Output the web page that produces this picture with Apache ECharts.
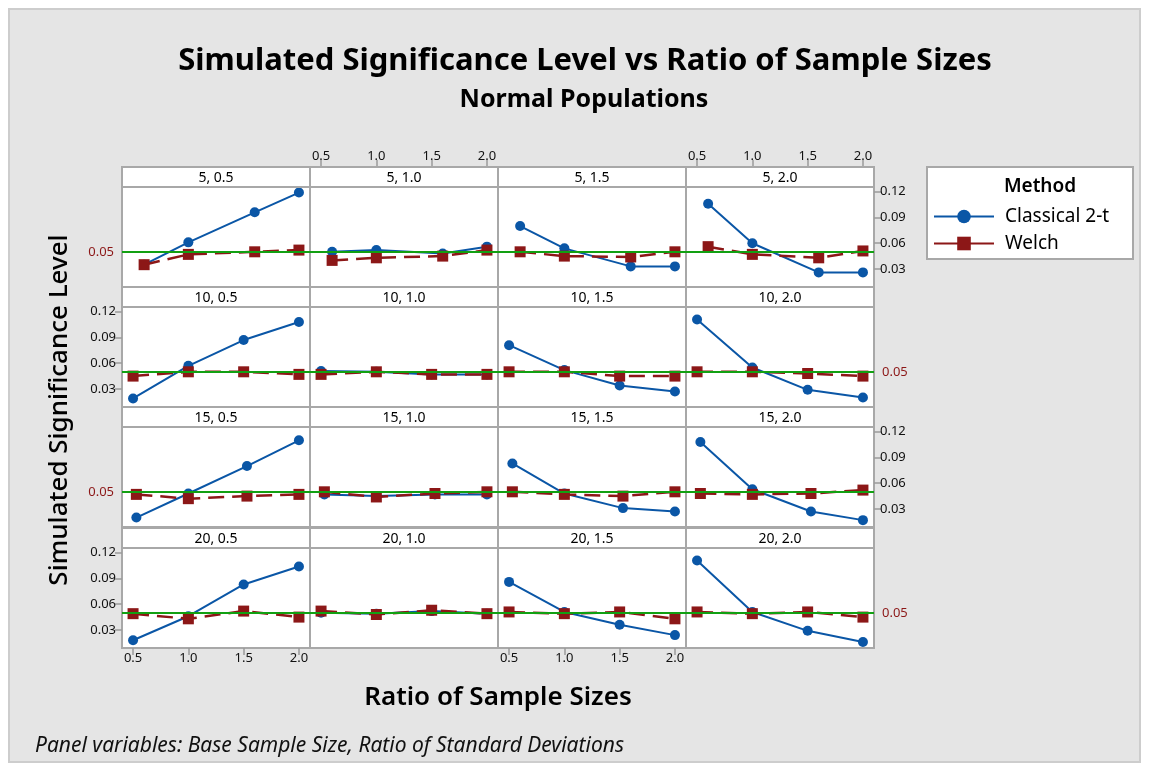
<!DOCTYPE html>
<html>
<head>
<meta charset="utf-8">
<script src="https://cdn.jsdelivr.net/npm/echarts@6/dist/echarts.min.js"></script>
<style>html,body{margin:0;padding:0;background:#fff}#c{width:1149px;height:771px}</style>
</head>
<body>
<div id="c"></div>
<script>
// ---- data ----
const baseSizes = ['5', '10', '15', '20'];
const sdRatios = ['0.5', '1.0', '1.5', '2.0'];
const ratios5 = [0.6, 1.0, 1.6, 2.0];
const ratios10 = [0.5, 1.0, 1.5, 2.0];
const ratios15 = [0.53, 1.0, 1.53, 2.0];
const ratios20 = [0.5, 1.0, 1.5, 2.0];
const xTicks = [0.5, 1.0, 1.5, 2.0];
const yTicks = [0.03, 0.06, 0.09, 0.12];
const alpha = 0.05;

// per base sample size, one array per SD ratio (panel), values at the 4 ratios
const classical5 = [[0.035, 0.061, 0.096, 0.119], [0.050, 0.052, 0.048, 0.056], [0.080, 0.054, 0.033, 0.033], [0.106, 0.060, 0.026, 0.026]];
const welch5 = [[0.035, 0.047, 0.050, 0.052], [0.040, 0.043, 0.045, 0.052], [0.050, 0.045, 0.044, 0.050], [0.056, 0.047, 0.043, 0.051]];
const classical10 = [[0.019, 0.057, 0.087, 0.108], [0.051, 0.050, 0.047, 0.047], [0.081, 0.052, 0.034, 0.027], [0.111, 0.055, 0.029, 0.020]];
const welch10 = [[0.045, 0.050, 0.050, 0.047], [0.047, 0.050, 0.047, 0.047], [0.050, 0.050, 0.045, 0.045], [0.050, 0.050, 0.048, 0.045]];
const classical15 = [[0.020, 0.048, 0.080, 0.110], [0.047, 0.045, 0.047, 0.047], [0.083, 0.048, 0.031, 0.027], [0.108, 0.053, 0.027, 0.017]];
const welch15 = [[0.047, 0.042, 0.045, 0.047], [0.050, 0.044, 0.048, 0.050], [0.050, 0.047, 0.045, 0.050], [0.048, 0.047, 0.048, 0.052]];
const classical20 = [[0.018, 0.046, 0.083, 0.104], [0.050, 0.049, 0.052, 0.049], [0.086, 0.051, 0.036, 0.024], [0.111, 0.051, 0.029, 0.016]];
const welch20 = [[0.049, 0.043, 0.052, 0.045], [0.052, 0.048, 0.053, 0.049], [0.051, 0.049, 0.051, 0.043], [0.051, 0.049, 0.051, 0.045]];

const ratiosByRow = [ratios5, ratios10, ratios15, ratios20];
const classicalByRow = [classical5, classical10, classical15, classical20];
const welchByRow = [welch5, welch10, welch15, welch20];

// ---- layout ----
const FONT = 'Noto Sans';
const colLeft = [122, 310, 498, 686];
const stripTop = [167, 287, 407, 528];
const CW = 188, SH = 20, PH = 100;
const BLUE = '#0a56a6', RED = '#8c1717', GREEN = '#12a012', BORDER = '#a8a8a8';
const X_MIN = 0.4, X_MAX = 2.1, Y_MIN = 0.009, Y_MAX = 0.1255;

const grids = [], xAxes = [], yAxes = [], series = [], graphics = [];

graphics.push({type: 'rect', z: -10, shape: {x: 0, y: 0, width: 1149, height: 771}, style: {fill: '#ffffff'}});
graphics.push({type: 'rect', z: -9, shape: {x: 9, y: 9, width: 1131, height: 753}, style: {fill: '#e5e5e5', stroke: '#cdcdcd', lineWidth: 2}});

for (let r = 0; r < 4; r++) {
  for (let c = 0; c < 4; c++) {
    const i = r * 4 + c;
    grids.push({left: colLeft[c], top: stripTop[r] + SH, width: CW, height: PH,
      show: true, backgroundColor: '#ffffff', borderColor: BORDER, borderWidth: 2, containLabel: false});
    graphics.push({type: 'rect', z: 5, shape: {x: colLeft[c], y: stripTop[r], width: CW, height: SH},
      style: {fill: '#ffffff', stroke: BORDER, lineWidth: 2}});
    graphics.push({type: 'text', z: 6, x: colLeft[c] + CW / 2, y: stripTop[r] + SH / 2 + 1,
      style: {text: baseSizes[r] + ', ' + sdRatios[c], font: '14px "' + FONT + '"', fill: '#000', textAlign: 'center', textVerticalAlign: 'middle'}});

    const showBottomX = (r === 3 && (c === 0 || c === 2));
    const showTopX = (r === 0 && (c === 1 || c === 3));
    const showX = showBottomX || showTopX;
    xAxes.push({type: 'value', gridIndex: i, min: X_MIN, max: X_MAX,
      position: showTopX ? 'top' : 'bottom', offset: showTopX ? SH : 0,
      axisLine: {show: false}, splitLine: {show: false},
      axisTick: {show: showX, length: 7, lineStyle: {color: '#9a9a9a', width: 1.5}, customValues: xTicks},
      axisLabel: {show: showX, customValues: xTicks, formatter: v => v.toFixed(1), color: '#111', fontSize: 13, fontFamily: FONT, margin: 4}});

    const showLeftY = (c === 0 && (r === 1 || r === 3));
    const showRightY = (c === 3 && (r === 0 || r === 2));
    const showY = showLeftY || showRightY;
    yAxes.push({type: 'value', gridIndex: i, min: Y_MIN, max: Y_MAX,
      position: showRightY ? 'right' : 'left',
      axisLine: {show: false}, splitLine: {show: false},
      axisTick: {show: showY, length: 7, lineStyle: {color: '#9a9a9a', width: 1.5}, customValues: yTicks},
      axisLabel: {show: showY, customValues: yTicks, formatter: v => v.toFixed(2), color: '#111', fontSize: 13, fontFamily: FONT, margin: 6}});

    const refLabelLeft = (c === 0 && (r === 0 || r === 2));
    const refLabelRight = (c === 3 && (r === 1 || r === 3));
    series.push({type: 'line', name: 'ref', xAxisIndex: i, yAxisIndex: i, data: [], z: 1, silent: true,
      markLine: {silent: true, symbol: 'none', animation: false,
        lineStyle: {color: GREEN, width: 2, type: 'solid'},
        label: {show: refLabelLeft || refLabelRight, position: refLabelLeft ? 'start' : 'end', formatter: '0.05',
          color: RED, fontSize: 13, fontFamily: FONT, distance: 8},
        data: [{yAxis: alpha}]}});

    const xs = ratiosByRow[r];
    series.push({type: 'line', name: 'Classical 2-t', xAxisIndex: i, yAxisIndex: i, z: 3,
      data: xs.map((x, k) => [x, classicalByRow[r][c][k]]),
      symbol: 'circle', symbolSize: 10, showAllSymbol: true,
      itemStyle: {color: BLUE}, lineStyle: {color: BLUE, width: 2}});
    series.push({type: 'line', name: 'Welch', xAxisIndex: i, yAxisIndex: i, z: 4,
      data: xs.map((x, k) => [x, welchByRow[r][c][k]]),
      symbol: 'rect', symbolSize: 11, showAllSymbol: true,
      itemStyle: {color: RED}, lineStyle: {color: RED, width: 2.5, type: [16, 8]}});
  }
}

// titles and labels
graphics.push({type: 'text', z: 6, x: 585, y: 61, style: {text: 'Simulated Significance Level vs Ratio of Sample Sizes',
  font: 'bold 31px "' + FONT + '"', fill: '#000', textAlign: 'center', textVerticalAlign: 'middle'}});
graphics.push({type: 'text', z: 6, x: 584, y: 100, style: {text: 'Normal Populations',
  font: 'bold 25px "' + FONT + '"', fill: '#000', textAlign: 'center', textVerticalAlign: 'middle'}});
graphics.push({type: 'text', z: 6, x: 60, y: 410, rotation: Math.PI / 2, style: {text: 'Simulated Significance Level',
  font: '500 26px "' + FONT + '"', fill: '#000', textAlign: 'center', textVerticalAlign: 'middle'}});
graphics.push({type: 'text', z: 6, x: 498, y: 698, style: {text: 'Ratio of Sample Sizes',
  font: '600 26px "' + FONT + '"', fill: '#000', textAlign: 'center', textVerticalAlign: 'middle'}});
graphics.push({type: 'text', z: 6, x: 35, y: 746, style: {text: 'Panel variables: Base Sample Size, Ratio of Standard Deviations',
  font: 'italic 21px "' + FONT + '"', fill: '#111', textAlign: 'left', textVerticalAlign: 'middle'}});
// legend box
graphics.push({type: 'rect', z: 1, shape: {x: 927, y: 167, width: 206, height: 92}, style: {fill: '#ffffff', stroke: BORDER, lineWidth: 2}});
graphics.push({type: 'text', z: 6, x: 1040, y: 187, style: {text: 'Method',
  font: '600 19px "' + FONT + '"', fill: '#000', textAlign: 'center', textVerticalAlign: 'middle'}});

const chart = echarts.init(document.getElementById('c'), null, {renderer: 'canvas'});
chart.setOption({
  animation: false,
  backgroundColor: '#ffffff',
  grid: grids, xAxis: xAxes, yAxis: yAxes, series: series,
  graphic: graphics,
  legend: {data: ['Classical 2-t', 'Welch'], orient: 'vertical', left: 928, top: 202,
    itemWidth: 60, itemHeight: 17, itemGap: 8,
    lineStyle: {type: 'solid', width: 2},
    textStyle: {fontSize: 19, fontFamily: FONT, color: '#000', padding: [0, 0, 0, 6]}}
});
</script>
</body>
</html>
